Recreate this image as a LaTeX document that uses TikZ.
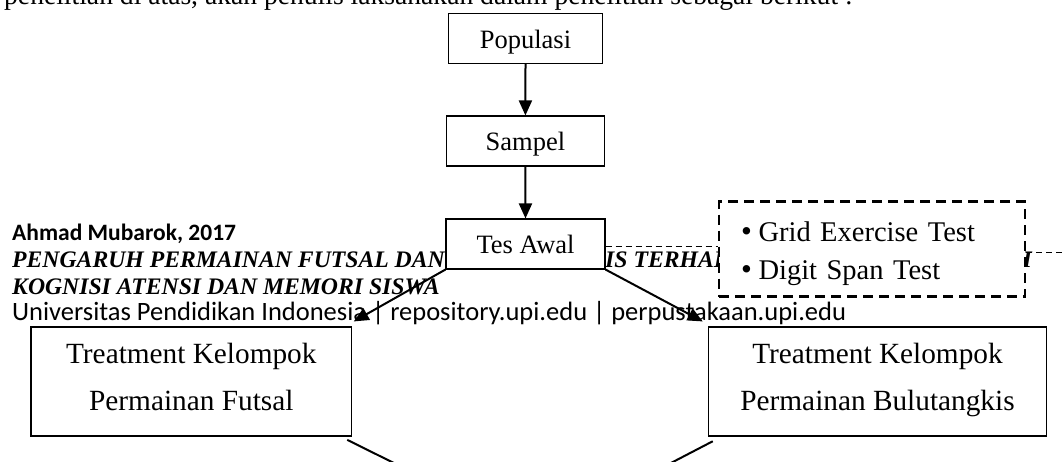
\documentclass[tikz,border=0pt]{standalone}
\usepackage{fontspec}
\setmainfont{Liberation Serif}
\newfontfamily\calibri{Carlito}
\usetikzlibrary{arrows.meta,calc}
\newcommand{\bigbul}{\makebox[17.5pt][l]{\smash{\fontsize{31pt}{31pt}\selectfont •}}}
\tikzset{
  box/.style={draw, line width=1.1pt, inner sep=0pt, fill=white},
  flowbox/.style={box, text height=35pt, text depth=15pt, font=\fontsize{26.5pt}{30pt}\selectfont},
  treatbox/.style={box, align=center, text height=83.7pt, text depth=25.3pt, font=\fontsize{29.3pt}{47pt}\selectfont},
  testbox/.style={draw, line width=2.5pt, dash pattern=on 10pt off 6pt, fill=white, inner xsep=22pt, inner ysep=0pt,
    text width=262pt, align=left, text height=40pt, text depth=55pt, font=\fontsize{28.5pt}{37.6pt}\selectfont},
  arr/.style={line width=2pt, -{Triangle[length=15pt,width=13pt]}},
  plainline/.style={line width=2pt},
  thindash/.style={line width=0.9pt, dash pattern=on 6pt off 4pt},
  foot/.style={anchor=base west, inner sep=0pt},
  calfoot/.style={foot, font=\calibri\fontsize{26.5pt}{26.5pt}\selectfont},
  titlefoot/.style={foot, font=\bfseries\itshape\fontsize{23.7pt}{20pt}\selectfont},
}
\begin{document}
\begin{tikzpicture}[x=1pt,y=-1pt]
\path[use as bounding box, clip] (0,0) rectangle (1062,462);
\fill[white] (0,0) rectangle (1062,462);
% running text cut at the top
\node[foot, font=\fontsize{27.6pt}{30pt}\selectfont] (intro) at (4,5) {penelitian di atas, akan penulis laksanakan dalam penelitian sebagai berikut :};
% footer watermark
\node[foot, font=\calibri\bfseries\fontsize{23.5pt}{23.5pt}\selectfont] (author) at (12,241) {Ahmad Mubarok, 2017};
\node[titlefoot] (title1) at (12,267.5) {PENGARUH PERMAINAN FUTSAL DAN};
\node[titlefoot] (title1b) at (605,267.5) {IS TERHADAP};
\node[titlefoot, anchor=base east] (title1c) at (1032,267.5) {FUNGSI};
\node[titlefoot] (title2) at (12,294) {KOGNISI ATENSI DAN MEMORI SISWA};
\node[calfoot] (univ) at (12,320) {Universitas Pendidikan Indonesia | repository.upi.edu | perpustakaan.upi.edu};
% boxes
\node[flowbox, minimum width=154.3pt] (pop) at (525.5,38.7) {Populasi};
\node[flowbox, minimum width=157.3pt] (samp) at (525.4,141) {Sampel};
\node[flowbox, minimum width=159pt] (tes) at (525.5,244) {Tes Awal};
\node[testbox] (tests) at (872,249.2) {\bigbul Grid Exercise Test\\\bigbul Digit Span Test};
\node[treatbox, minimum width=320.7pt] (tl) at (191.3,381.5) {Treatment Kelompok\\Permainan Futsal};
\node[treatbox, minimum width=338.4pt] (tr) at (877.5,381.5) {Treatment Kelompok\\Permainan Bulutangkis};
% connectors
\coordinate (redge) at (1062,252.7);
\coordinate (lfree) at (408,470);
\coordinate (rfree) at (657.5,470);
\draw[arr] (pop.south) -- (samp.north);
\draw[arr] (samp.south) -- (tes.north);
\draw[arr] (tes.south west) -- ($(tl.north east)+(1.5,-5)$);
\draw[arr] (tes.south east) -- ($(tr.north west)+(-5,-5)$);
\draw[thindash] ($(tes.east)+(0,2.7)$) -- ($(tes.east -| tests.west)+(0,2.7)$);
\draw[thindash] ($(tests.east |- redge)$) -- (redge);
\draw[plainline] ($(tl.south east)+(-5,3.3)$) -- (lfree);
\draw[plainline] ($(tr.south west)+(5,4.7)$) -- (rfree);
\end{tikzpicture}
\end{document}
